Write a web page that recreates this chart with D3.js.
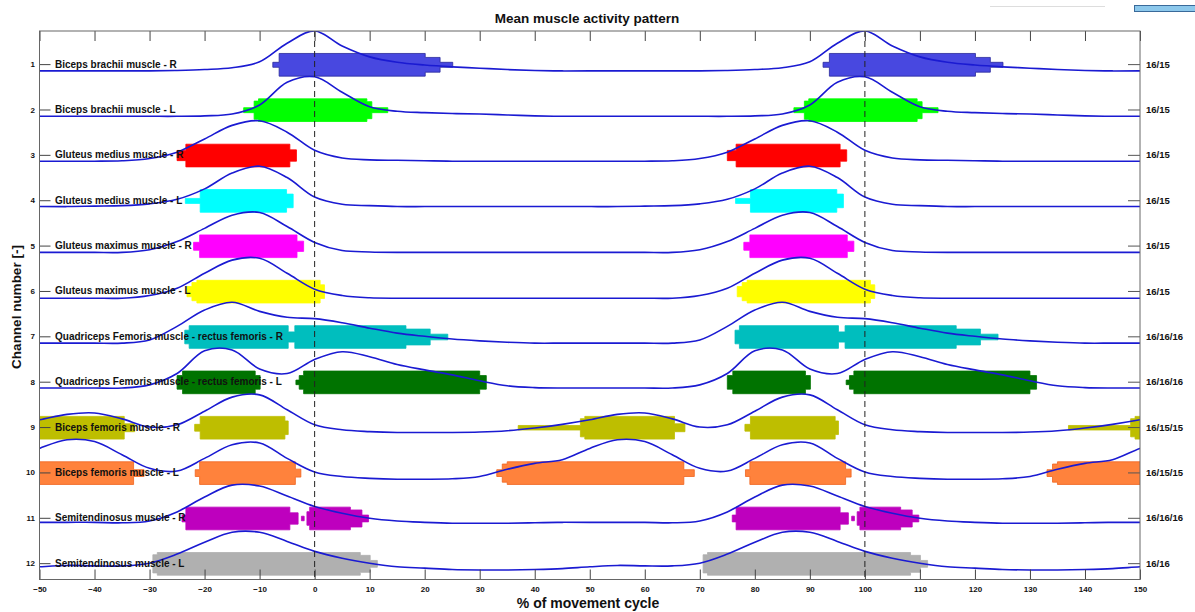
<!DOCTYPE html>
<html>
<head>
<meta charset="utf-8">
<script src="https://cdn.jsdelivr.net/npm/d3@7"></script>
<style>
    body { margin: 0; background: #fff; }
    svg text { font-family: "Liberation Sans", Arial, sans-serif; font-weight: bold; fill: #111; }
</style>
</head>
<body>
<svg id="SVG_CONTAINER" width="1195" height="612"></svg>
<script>
// ** DATA *****************************************
const muscles = [
    "Biceps brachii muscle - R",
    "Biceps brachii muscle - L",
    "Gluteus medius muscle - R",
    "Gluteus medius muscle - L",
    "Gluteus maximus muscle - R",
    "Gluteus maximus muscle - L",
    "Quadriceps Femoris muscle - rectus femoris - R",
    "Quadriceps Femoris muscle - rectus femoris - L",
    "Biceps femoris muscle - R",
    "Biceps femoris muscle - L",
    "Semitendinosus muscle - R",
    "Semitendinosus muscle - L"
];
const channels = [1, 2, 3, 4, 5, 6, 7, 8, 9, 10, 11, 12];
const cycleCounts = ["16/15", "16/15", "16/15", "16/15", "16/15", "16/15",
    "16/16/16", "16/16/16", "16/15/15", "16/15/15", "16/16/16", "16/16"];
const xTicks = [-50, -40, -30, -20, -10, 0, 10, 20, 30, 40, 50, 60, 70, 80, 90, 100, 110, 120, 130, 140, 150];
const cycleMarks = [0, 100];
const cycleShifts = [-100, 0, 100];

// % of cycle where the mean envelope was read (one cycle, repeats every 100 %)
const cyclePct = [0, 5, 10, 15, 20, 25, 30, 35, 40, 45, 50, 55, 60, 65, 70, 75, 80, 85, 90, 95];

// normalised mean envelope per channel
const envelopes = [
    [0.93, 0.60, 0.36, 0.24, 0.18, 0.14, 0.11, 0.08, 0.06, 0.05, 0.05, 0.05, 0.05, 0.05, 0.05, 0.06, 0.08, 0.12, 0.25, 0.66],
    [0.92, 0.58, 0.26, 0.16, 0.13, 0.11, 0.10, 0.08, 0.06, 0.05, 0.05, 0.05, 0.05, 0.05, 0.05, 0.05, 0.06, 0.10, 0.30, 0.80],
    [0.30, 0.13, 0.09, 0.08, 0.07, 0.06, 0.06, 0.06, 0.06, 0.06, 0.06, 0.06, 0.06, 0.07, 0.12, 0.26, 0.55, 0.85, 0.95, 0.70],
    [0.27, 0.11, 0.08, 0.06, 0.06, 0.06, 0.06, 0.06, 0.06, 0.06, 0.06, 0.06, 0.07, 0.08, 0.12, 0.22, 0.45, 0.80, 0.95, 0.70],
    [0.27, 0.09, 0.06, 0.05, 0.05, 0.05, 0.05, 0.05, 0.05, 0.05, 0.05, 0.05, 0.05, 0.05, 0.11, 0.29, 0.58, 0.87, 0.93, 0.62],
    [0.24, 0.10, 0.05, 0.04, 0.04, 0.04, 0.04, 0.04, 0.04, 0.04, 0.04, 0.04, 0.04, 0.04, 0.10, 0.26, 0.59, 0.88, 0.92, 0.59],
    [0.59, 0.50, 0.38, 0.27, 0.20, 0.14, 0.10, 0.07, 0.05, 0.05, 0.05, 0.05, 0.05, 0.05, 0.12, 0.42, 0.78, 0.95, 0.75, 0.62],
    [0.69, 0.86, 0.75, 0.58, 0.46, 0.35, 0.22, 0.11, 0.07, 0.06, 0.06, 0.06, 0.06, 0.06, 0.13, 0.38, 0.88, 0.90, 0.48, 0.38],
    [0.25, 0.14, 0.10, 0.08, 0.08, 0.08, 0.09, 0.12, 0.18, 0.26, 0.36, 0.48, 0.51, 0.38, 0.20, 0.25, 0.55, 0.86, 0.91, 0.58],
    [0.21, 0.11, 0.07, 0.05, 0.05, 0.06, 0.11, 0.27, 0.40, 0.48, 0.73, 0.92, 0.88, 0.59, 0.29, 0.23, 0.51, 0.81, 0.85, 0.51],
    [0.45, 0.30, 0.19, 0.13, 0.10, 0.08, 0.08, 0.08, 0.09, 0.10, 0.10, 0.10, 0.10, 0.09, 0.13, 0.33, 0.66, 0.92, 0.90, 0.68],
    [0.46, 0.31, 0.20, 0.12, 0.09, 0.06, 0.05, 0.05, 0.06, 0.08, 0.12, 0.15, 0.14, 0.14, 0.20, 0.40, 0.66, 0.88, 0.88, 0.68]
];

// activation blocks per channel: [start %, end %, share of cycles active]
const activations = [
    [[[-7.6, -6.45, 0.22], [-6.45, 20.1, 1], [20.1, 22.8, 0.65], [22.8, 25.1, 0.22]]],
    [[[-12.9, -11.0, 0.22], [-11.0, -10.2, 0.8], [-10.2, 9.5, 1], [9.5, 10.4, 0.75], [10.4, 13.3, 0.22]]],
    [[[-25.0, -23.4, 0.45], [-23.4, -4.5, 1], [-4.5, -3.3, 0.5]]],
    [[[-23.5, -20.8, 0.22], [-20.8, -5.1, 1], [-5.1, -3.9, 0.6]]],
    [[[-22.0, -20.9, 0.35], [-20.9, -3.2, 1], [-3.2, -2.0, 0.45]]],
    [[[-23.2, -22.3, 0.45], [-22.3, -21.4, 0.8], [-21.4, 1.0, 1], [1.0, 1.8, 0.6]]],
    [[[-23.6, -22.8, 0.6], [-22.8, -4.8, 1], [-4.8, -3.6, 0.45], [-3.6, 16.6, 1], [16.6, 21.0, 0.7], [21.0, 24.2, 0.25]]],
    [[[-25.0, -24.0, 0.6], [-24.0, -10.8, 1], [-10.8, -9.9, 0.6]],
     [[-3.4, -2.8, 0.2], [-2.8, -2.0, 0.6], [-2.0, 30.0, 1], [30.0, 31.2, 0.6]]],
    [[[37.0, 48.3, 0.2], [48.3, 49.1, 0.8], [49.1, 65.4, 1], [65.4, 67.3, 0.35]],
     [[-21.8, -20.8, 0.3], [-20.8, -5.4, 1], [-5.4, -4.8, 0.6]]],
    [[[33.1, 34.1, 0.3], [34.1, 35.0, 0.8], [35.0, 67.1, 1], [67.1, 69.0, 0.3]],
     [[-21.7, -20.9, 0.3], [-20.9, -3.5, 1], [-3.5, -2.5, 0.35]]],
    [[[-24.1, -23.4, 0.3], [-23.4, -4.5, 1], [-4.5, -3.0, 0.5]],
     [[-2.4, -1.9, 0.2]],
     [[-1.4, -0.9, 0.6], [-0.9, 6.5, 1], [6.5, 8.6, 0.75], [8.6, 9.8, 0.3]]],
    [[[-29.4, -28.6, 0.8], [-28.6, 8.3, 1], [8.3, 10.1, 0.75], [10.1, 11.4, 0.3]]]
];

// ** STYLE *****************************************
const barColours = ["#4848e0", "#00ff00", "#ff0000", "#00ffff", "#ff00ff", "#ffff00",
    "#00bebe", "#007300", "#bebe00", "#ff823c", "#be00be", "#b0b0b0"];
const envColour = "#1a1ad2";

const width = 1195, height = 612;
const PLOT = {"LEFT": 39.5, "RIGHT": 1140, "TOP": 31, "BOTTOM": 579.5};

let svg = d3.select("#SVG_CONTAINER");
svg.append("rect").attr("width", width).attr("height", height).attr("fill", "#fff");

//** SCALES *****************************************
let xScale = d3.scaleLinear().domain([-50, 150]).range([PLOT.LEFT, PLOT.RIGHT]);
let yScale = d3.scaleLinear().domain([0.27, 12.36]).range([PLOT.TOP, PLOT.BOTTOM]);
let envScale = d3.scaleLinear().domain([0, 1]).range([0.2, -0.8]);   // channel offset for envelope
let barScale = d3.scaleLinear().domain([0, 1]).range([0, 0.25]);     // half thickness in channel units

svg.append("clipPath").attr("id", "plotClip")
    .append("rect")
    .attr("x", PLOT.LEFT).attr("y", PLOT.TOP)
    .attr("width", PLOT.RIGHT - PLOT.LEFT).attr("height", PLOT.BOTTOM - PLOT.TOP);

let chart = svg.append("g").attr("clip-path", "url(#plotClip)");

//** ACTIVATION BARS *****************************************
channels.forEach(function (ch, i) {
    let centre = ch + 0.015;
    let area = d3.area()
        .x(d => xScale(d.x))
        .y0(d => yScale(centre + barScale(d.share)))
        .y1(d => yScale(centre - barScale(d.share)))
        .curve(d3.curveStepAfter);
    let stroke = i === 0 ? "#2a2a9c" : (i === 9 ? "#f06420" : barColours[i]);
    activations[i].forEach(function (block) {
        cycleShifts.forEach(function (shift) {
            let pts = block.map(s => ({x: s[0] + shift, share: s[2]}));
            let last = block[block.length - 1];
            pts.push({x: last[1] + shift, share: last[2]});
            chart.append("path")
                .attr("d", area(pts))
                .attr("fill", barColours[i])
                .attr("stroke", stroke)
                .attr("stroke-width", 0.8);
        });
    });
});

//** LABELS *****************************************
svg.append("g").selectAll("text")
    .data(channels)
    .enter()
    .append("text")
    .attr("x", PLOT.LEFT + 15.5)
    .attr("y", d => yScale(d))
    .attr("dy", "0.35em")
    .style("font-size", "10px")
    .text((d, i) => muscles[i]);

//** ENVELOPES *****************************************
channels.forEach(function (ch, i) {
    let pts = [];
    cycleShifts.concat([200]).forEach(function (shift) {
        cyclePct.forEach(function (p, j) {
            pts.push({x: p + shift, v: envelopes[i][j]});
        });
    });
    pts = pts.filter(d => d.x >= -60 && d.x <= 160);
    let line = d3.line()
        .x(d => xScale(d.x))
        .y(d => yScale(ch + envScale(d.v)))
        .curve(d3.curveCatmullRom.alpha(0.5));
    chart.append("path")
        .attr("d", line(pts))
        .attr("fill", "none")
        .attr("stroke", envColour)
        .attr("stroke-width", 1.6);
});

//** CYCLE MARKS *****************************************
svg.append("g").selectAll("line")
    .data(cycleMarks)
    .enter()
    .append("line")
    .attr("x1", d => xScale(d)).attr("x2", d => xScale(d))
    .attr("y1", PLOT.TOP).attr("y2", PLOT.BOTTOM)
    .attr("stroke", "#222")
    .attr("stroke-width", 1)
    .attr("stroke-dasharray", "6,4");

//** AXES *****************************************
let xAxisBottom = d3.axisBottom(xScale)
    .tickValues(xTicks)
    .tickSizeInner(-10).tickSizeOuter(0)
    .tickPadding(7)
    .tickFormat(d3.format("d"));
let gb = svg.append("g")
    .attr("transform", "translate(0," + PLOT.BOTTOM + ")")
    .call(xAxisBottom);
gb.select(".domain").remove();
gb.selectAll("line").attr("stroke", "#444");
gb.selectAll("text").style("font-size", "8px").attr("fill", "#111");

let xAxisTop = d3.axisTop(xScale)
    .tickValues(xTicks)
    .tickSizeInner(-10).tickSizeOuter(0)
    .tickFormat("");
let gt = svg.append("g")
    .attr("transform", "translate(0," + PLOT.TOP + ")")
    .call(xAxisTop);
gt.select(".domain").remove();
gt.selectAll("line").attr("stroke", "#444");

let yAxisLeft = d3.axisLeft(yScale)
    .tickValues(channels)
    .tickSizeInner(-11).tickSizeOuter(0)
    .tickPadding(4.5)
    .tickFormat(d3.format("d"));
let gl = svg.append("g")
    .attr("transform", "translate(" + PLOT.LEFT + ",0)")
    .call(yAxisLeft);
gl.select(".domain").remove();
gl.selectAll("line").attr("stroke", "#444");
gl.selectAll("text").style("font-size", "8px").attr("fill", "#111");

let yAxisRight = d3.axisRight(yScale)
    .tickValues(channels)
    .tickSizeInner(-12).tickSizeOuter(0)
    .tickPadding(6)
    .tickFormat((d, i) => cycleCounts[i]);
let gr = svg.append("g")
    .attr("transform", "translate(" + PLOT.RIGHT + ",0)")
    .call(yAxisRight);
gr.select(".domain").remove();
gr.selectAll("line").attr("stroke", "#555");
gr.selectAll("text").style("font-size", "9.5px").attr("fill", "#111");

// frame
svg.append("rect")
    .attr("x", PLOT.LEFT).attr("y", PLOT.TOP)
    .attr("width", PLOT.RIGHT - PLOT.LEFT).attr("height", PLOT.BOTTOM - PLOT.TOP)
    .attr("fill", "none")
    .attr("stroke", "#666")
    .attr("stroke-width", 1);

//** TITLES *****************************************
svg.append("text")
    .attr("x", 587).attr("y", 23)
    .attr("text-anchor", "middle")
    .style("font-size", "13.5px")
    .text("Mean muscle activity pattern");

svg.append("text")
    .attr("x", 588).attr("y", 608)
    .attr("text-anchor", "middle")
    .style("font-size", "14px")
    .text("% of movement cycle");

svg.append("text")
    .attr("text-anchor", "middle")
    .attr("transform", "translate(21,307) rotate(-90)")
    .style("font-size", "13.5px")
    .text("Channel number [-]");

// window decorations in the top right corner
svg.append("line")
    .attr("x1", 990).attr("x2", 1105).attr("y1", 6.5).attr("y2", 6.5)
    .attr("stroke", "#ddd");
svg.append("rect")
    .attr("x", 1134.5).attr("y", 5.5).attr("width", 62).attr("height", 6)
    .attr("fill", "#8cc8ec").attr("stroke", "#3a6a9a");
</script>
</body>
</html>
